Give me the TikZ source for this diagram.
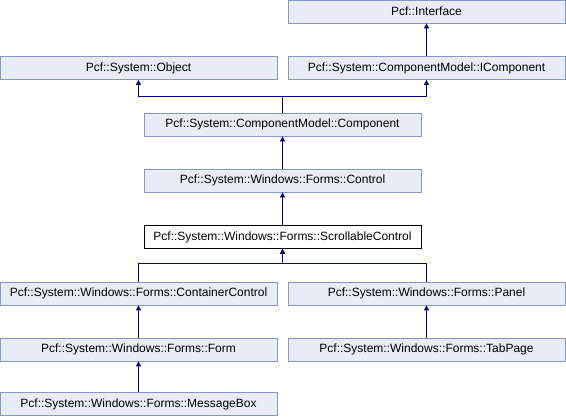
\documentclass[tikz,border=0pt]{standalone}
\usepackage{fontspec}
\setmainfont{Liberation Sans}
\usetikzlibrary{arrows.meta}
\definecolor{dxfill}{HTML}{E8ECF5}
\definecolor{dxedge}{HTML}{8497C8}
\definecolor{dxline}{HTML}{000080}

\begin{document}
\begin{tikzpicture}[x=1pt, y=-1pt,
  cls/.style={draw=dxedge, line width=0.8pt, fill=dxfill, minimum width=277pt, minimum height=23pt, inner sep=1pt, font=\fontsize{12}{14}\selectfont},
  clsfocus/.style={cls, draw=black, fill=white},
  inh/.style={draw=dxline, line width=0.9pt, -{Triangle[width=5pt,length=5pt]}}]
  \useasboundingbox (0,0) rectangle (566,416);
  % classes
  \node[cls] (iface) at (426.5,11.5) {Pcf::Interface};
  \node[cls] (obj) at (138.5,68) {Pcf::System::Object};
  \node[cls] (icomp) at (426.5,68) {Pcf::System::ComponentModel::IComponent};
  \node[cls] (comp) at (282.5,124.5) {Pcf::System::ComponentModel::Component};
  \node[cls] (ctrl) at (282.5,180.5) {Pcf::System::Windows::Forms::Control};
  \node[clsfocus] (scroll) at (282.5,237) {Pcf::System::Windows::Forms::ScrollableControl};
  \node[cls] (cont) at (138.5,293.5) {Pcf::System::Windows::Forms::ContainerControl};
  \node[cls] (panel) at (426.5,293.5) {Pcf::System::Windows::Forms::Panel};
  \node[cls] (form) at (138.5,349.5) {Pcf::System::Windows::Forms::Form};
  \node[cls] (tab) at (426.5,349.5) {Pcf::System::Windows::Forms::TabPage};
  \node[cls] (msg) at (138.5,404) {Pcf::System::Windows::Forms::MessageBox};
  % inheritance
  \draw[inh] (icomp.north) -- (iface.south);
  \draw[inh] (comp.north) -- ++(0,-16) -| (obj.south);
  \draw[inh] (comp.north) -- ++(0,-16) -| (icomp.south);
  \draw[inh] (ctrl.north) -- (comp.south);
  \draw[inh] (scroll.north) -- (ctrl.south);
  \draw[inh] (cont.north) -- ++(0,-18) -| (scroll.south);
  \draw[inh] (panel.north) -- ++(0,-18) -| (scroll.south);
  \draw[inh] (form.north) -- (cont.south);
  \draw[inh] (tab.north) -- (panel.south);
  \draw[inh] (msg.north) -- (form.south);
\end{tikzpicture}
\end{document}
